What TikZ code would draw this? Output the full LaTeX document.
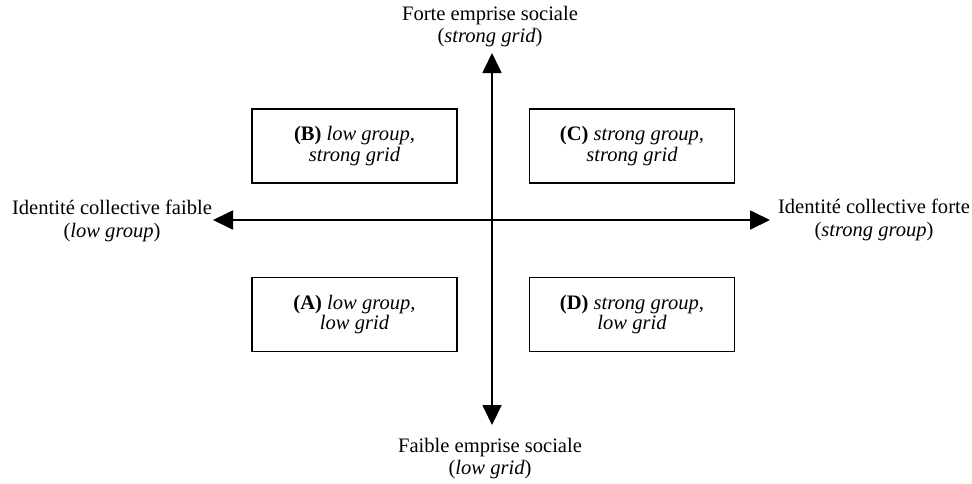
\documentclass[tikz,border=0pt]{standalone}
\usepackage{fontspec}
\setmainfont{Liberation Serif}
\usetikzlibrary{arrows.meta}
\begin{document}
\begin{tikzpicture}[>={Triangle[length=0.4cm,width=0.38cm]},
	  quad/.style={draw,line width=1pt,minimum width=4.1cm,minimum height=1.48cm,align=center,font=\fontsize{11.7}{11.6}\selectfont},
	  lbl/.style={align=center,font=\fontsize{11.7}{12.7}\selectfont}]
	  \useasboundingbox (0,0) rectangle (19.44,-9.66);
	  % axes
	  \coordinate (top) at (9.84,-1.06);
	  \coordinate (bot) at (9.84,-8.50);
	  \coordinate (west) at (4.26,-4.40);
	  \coordinate (east) at (15.40,-4.40);
	  \draw[<->,line width=1pt] (bot) -- (top);
	  \draw[<->,line width=1pt] (west) -- (east);
	  % axis labels
	  \node[lbl] (ltop) at (9.80,-0.53) {Forte emprise sociale\\(\textit{strong grid})};
	  \node[lbl] (lbot) at (9.80,-9.17) {Faible emprise sociale\\(\textit{low grid})};
	  \node[lbl] (lwest) at (2.24,-4.42) {Identité collective faible\\(\textit{low group})};
	  \node[lbl] (least) at (17.48,-4.40) {Identité collective forte\\(\textit{strong group})};
	  % quadrants
	  \node[quad] (qB) at (7.09,-2.92) {\textbf{(B)} \textit{low group,}\\\textit{strong grid}};
	  \node[quad] (qC) at (12.64,-2.92) {\textbf{(C)} \textit{strong group,}\\\textit{strong grid}};
	  \node[quad] (qA) at (7.09,-6.29) {\textbf{(A)} \textit{low group,}\\\textit{low grid}};
	  \node[quad] (qD) at (12.64,-6.29) {\textbf{(D)} \textit{strong group,}\\\textit{low grid}};
	\end{tikzpicture}
\end{document}
